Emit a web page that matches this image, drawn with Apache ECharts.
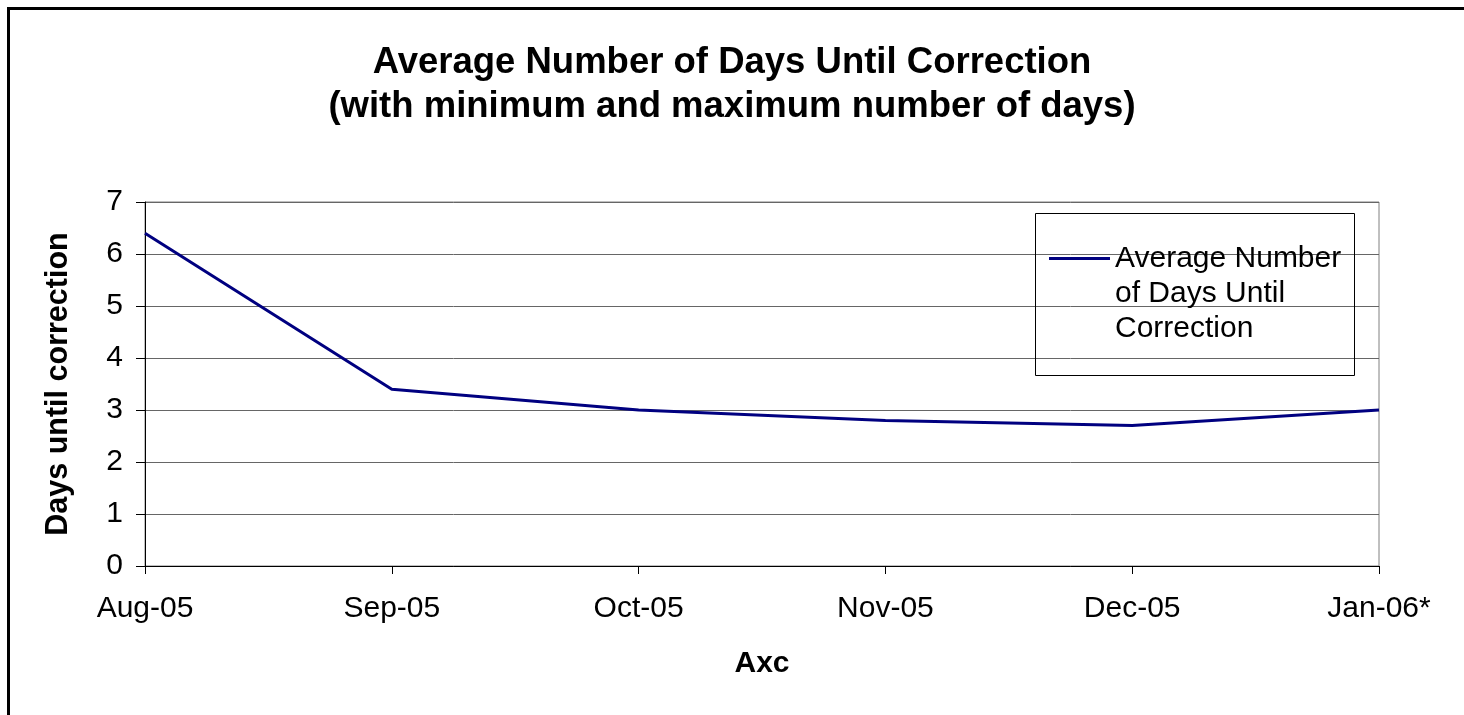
<!DOCTYPE html>
<html>
<head>
<meta charset="utf-8">
<script src="https://cdn.jsdelivr.net/npm/echarts@6/dist/echarts.min.js"></script>
<style>
html,body{margin:0;padding:0;background:#fff;}
#chart{width:1464px;height:715px;}
</style>
</head>
<body>
<div id="chart"></div>
<script>
const categories = ['Aug-05', 'Sep-05', 'Oct-05', 'Nov-05', 'Dec-05', 'Jan-06*'];
const avgDays = [6.4, 3.4, 3.0, 2.8, 2.7, 3.0];
const seriesName = 'Average Number of Days Until Correction';
const legendLines = ['Average Number', 'of Days Until', 'Correction'];
const yMin = 0, yMax = 7, yStep = 1;

const FONT = '"Liberation Sans", Arial, sans-serif';
const chart = echarts.init(document.getElementById('chart'), null, {renderer: 'canvas'});

chart.setOption({
  backgroundColor: '#ffffff',
  animation: false,
  title: {
    text: 'Average Number of Days Until Correction\n(with minimum and maximum number of days)',
    left: 732,
    top: 41,
    padding: 0,
    textAlign: 'center',
    textStyle: {fontFamily: FONT, fontSize: 36.5, fontWeight: 'bold', color: '#000', lineHeight: 44}
  },
  legend: {
    left: 1049,
    top: 171,
    padding: 0,
    icon: 'rect',
    itemWidth: 61,
    itemHeight: 3,
    data: [seriesName],
    formatter: function () { return '\n\n' + legendLines.join('\n'); },
    textStyle: {fontFamily: FONT, fontSize: 30, color: '#000', lineHeight: 35}
  },
  graphic: [
    {type: 'rect', shape: {x: 8.5, y: 8.5, width: 1500, height: 800}, style: {fill: null, stroke: '#000', lineWidth: 3}, silent: true},
    {type: 'rect', z: 100, shape: {x: 1035.5, y: 213.5, width: 319, height: 162}, style: {fill: null, stroke: '#000', lineWidth: 1}, silent: true}
  ],
  grid: {
    left: 145, right: 85, top: 202, bottom: 149,
    show: true, borderColor: '#808080', borderWidth: 1, backgroundColor: 'transparent'
  },
  xAxis: {
    type: 'category',
    data: categories,
    boundaryGap: false,
    name: 'Axc',
    nameLocation: 'middle',
    nameGap: 83,
    nameTextStyle: {fontFamily: FONT, fontSize: 30, fontWeight: 'bold', color: '#000'},
    axisLine: {lineStyle: {color: '#000', width: 1}},
    axisTick: {show: true, length: 8, alignWithLabel: true, lineStyle: {color: '#000'}},
    axisLabel: {fontFamily: FONT, fontSize: 30, color: '#000', margin: 28, interval: 0},
    splitLine: {show: false}
  },
  yAxis: {
    type: 'value',
    min: yMin, max: yMax, interval: yStep,
    name: 'Days until correction',
    nameLocation: 'middle',
    nameGap: 71,
    nameTextStyle: {fontFamily: FONT, fontSize: 30.5, fontWeight: 'bold', color: '#000'},
    axisLine: {show: true, lineStyle: {color: '#000', width: 1}},
    axisTick: {show: true, length: 9, lineStyle: {color: '#000'}},
    axisLabel: {fontFamily: FONT, fontSize: 30, color: '#000', margin: 22},
    splitLine: {show: true, lineStyle: {color: '#666', width: 1}}
  },
  series: [{
    name: seriesName,
    type: 'line',
    data: avgDays,
    symbol: 'none',
    showSymbol: false,
    lineStyle: {color: '#000080', width: 3},
    itemStyle: {color: '#000080'}
  }]
});
</script>
</body>
</html>
